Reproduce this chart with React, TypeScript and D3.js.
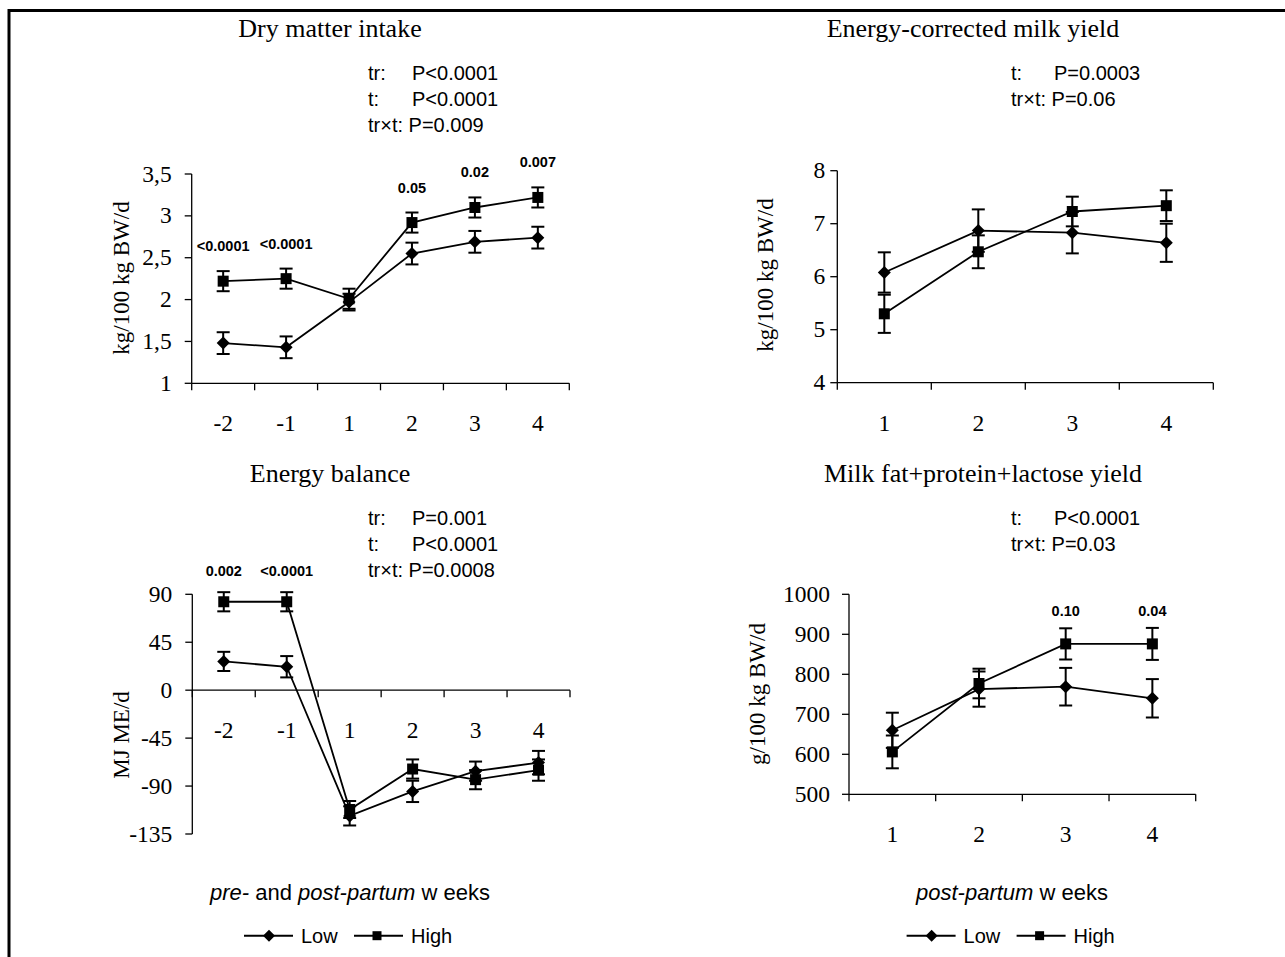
import React from "react";
import * as d3 from "d3";

// ---------- data ----------
const preWeeks = ["-2", "-1", "1", "2", "3", "4"];
const postWeeks = ["1", "2", "3", "4"];

const dmiLow = [1.48, 1.43, 1.97, 2.55, 2.69, 2.74];
const dmiLowSE = [0.13, 0.13, 0.1, 0.13, 0.13, 0.13];
const dmiHigh = [2.22, 2.25, 2.01, 2.92, 3.1, 3.22];
const dmiHighSE = [0.12, 0.12, 0.12, 0.12, 0.12, 0.12];
const dmiTicks = [1, 1.5, 2, 2.5, 3, 3.5];
const dmiSig = [["-2", "<0.0001"], ["-1", "<0.0001"], ["2", "0.05"], ["3", "0.02"], ["4", "0.007"]];
const dmiStats = ["tr:\tP<0.0001", "t:\tP<0.0001", "tr×t: P=0.009"];

const ecmLow = [6.08, 6.87, 6.83, 6.64];
const ecmLowSE = [0.38, 0.4, 0.39, 0.36];
const ecmHigh = [5.3, 6.47, 7.23, 7.34];
const ecmHighSE = [0.36, 0.31, 0.28, 0.29];
const ecmTicks = [4, 5, 6, 7, 8];
const ecmStats = ["t:\tP=0.0003", "tr×t: P=0.06"];

const ebLow = [27, 22, -118, -95, -76, -68];
const ebLowSE = [9, 10, 9, 10, 9, 11];
const ebHigh = [83, 83, -112, -74, -84, -75];
const ebHighSE = [9, 9, 8, 9, 9, 10];
const ebTicks = [-135, -90, -45, 0, 45, 90];
const ebSig = [["-2", "0.002"], ["-1", "<0.0001"]];
const ebStats = ["tr:\tP=0.001", "t:\tP<0.0001", "tr×t: P=0.0008"];

const fplLow = [660, 763, 769, 740];
const fplLowSE = [44, 44, 47, 48];
const fplHigh = [606, 777, 876, 876];
const fplHighSE = [41, 37, 39, 40];
const fplTicks = [500, 600, 700, 800, 900, 1000];
const fplSig = [["3", "0.10"], ["4", "0.04"]];
const fplStats = ["t:\tP<0.0001", "tr×t: P=0.03"];

const seriesNames = ["Low", "High"];

// ---------- styles ----------
const SERIF = "'Liberation Serif', 'Times New Roman', serif";
const SANS = "'Liberation Sans', Arial, sans-serif";

function Diamond({ x, y, r }: { x: number; y: number; r: number }) {
  return <path d={`M${x},${y - r}L${x + r},${y}L${x},${y + r}L${x - r},${y}Z`} fill="#000" />;
}
function Square({ x, y, s }: { x: number; y: number; s: number }) {
  return <rect x={x - s / 2} y={y - s / 2} width={s} height={s} fill="#000" />;
}

type PanelProps = {
  weeks: string[];
  low: number[];
  lowSE: number[];
  high: number[];
  highSE: number[];
  ticks: number[];
  fmt: (v: number) => string;
  x0: number;
  x1: number;
  yTop: number;
  yBottom: number;
  axisAt: number;
  tickLabelGap: number;
  yLabel: string;
  yLabelX: number;
  yLabelY: number;
  title: string;
  titleX: number;
  titleY: number;
  stats: string[];
  statsX: number;
  statsTab: number;
  statsY: number;
  sig?: string[][];
  sigOffset?: number;
};

function Panel(p: PanelProps) {
  const x = d3.scaleBand<string>().domain(p.weeks).range([p.x0, p.x1]).padding(0);
  const ext = d3.extent(p.ticks) as [number, number];
  const y = d3.scaleLinear().domain(ext).range([p.yBottom, p.yTop]);
  const cx = (w: string) => (x(w) as number) + x.bandwidth() / 2;
  const edges = [...p.weeks.map((w) => x(w) as number), p.x1];
  const axisY = y(p.axisAt);
  const line = d3
    .line<number>()
    .x((_, i) => cx(p.weeks[i]))
    .y((v) => y(v));

  const errBars = (vals: number[], se: number[], key: string) =>
    vals.map((v, i) => {
      const xx = cx(p.weeks[i]);
      const t = y(v + se[i]);
      const b = y(v - se[i]);
      return (
        <g key={key + i} stroke="#000" strokeWidth={2}>
          <line x1={xx} x2={xx} y1={t} y2={b} />
          <line x1={xx - 6.5} x2={xx + 6.5} y1={t} y2={t} />
          <line x1={xx - 6.5} x2={xx + 6.5} y1={b} y2={b} />
        </g>
      );
    });

  return (
    <g>
      <text x={p.titleX} y={p.titleY} textAnchor="middle" fontFamily={SERIF} fontSize={26}>
        {p.title}
      </text>
      {p.stats.map((s, i) => {
        const parts = s.split("\t");
        const yy = p.statsY + i * 26;
        return (
          <g key={"st" + i} fontFamily={SANS} fontSize={20}>
            <text x={p.statsX} y={yy}>{parts[0]}</text>
            {parts.length > 1 && (
              <text x={p.statsTab} y={yy}>{parts[1]}</text>
            )}
          </g>
        );
      })}
      {/* y axis */}
      <line x1={p.x0} x2={p.x0} y1={y(ext[1])} y2={y(ext[0])} stroke="#000" strokeWidth={1.3} />
      {p.ticks.map((t) => (
        <g key={"yt" + t}>
          <line x1={p.x0 - 7} x2={p.x0} y1={y(t)} y2={y(t)} stroke="#000" strokeWidth={1.3} />
          <text
            x={p.x0 - p.tickLabelGap}
            y={y(t) + 7.5}
            textAnchor="end"
            fontFamily={SERIF}
            fontSize={23.5}
          >
            {p.fmt(t)}
          </text>
        </g>
      ))}
      {/* x axis */}
      <line x1={p.x0} x2={p.x1} y1={axisY} y2={axisY} stroke="#000" strokeWidth={1.3} />
      {edges.map((e, i) => (
        <line key={"xt" + i} x1={e} x2={e} y1={axisY} y2={axisY + 7} stroke="#000" strokeWidth={1.3} />
      ))}
      {p.weeks.map((w) => (
        <text
          key={"xl" + w}
          x={cx(w)}
          y={axisY + 48}
          textAnchor="middle"
          fontFamily={SERIF}
          fontSize={23.5}
        >
          {w}
        </text>
      ))}
      <text
        transform={`translate(${p.yLabelX},${p.yLabelY}) rotate(-90)`}
        textAnchor="middle"
        fontFamily={SERIF}
        fontSize={23}
        dy="0.35em"
      >
        {p.yLabel}
      </text>
      {/* error bars */}
      {errBars(p.high, p.highSE, "eh")}
      {errBars(p.low, p.lowSE, "el")}
      {/* lines */}
      <path d={line(p.low) as string} fill="none" stroke="#000" strokeWidth={1.8} />
      <path d={line(p.high) as string} fill="none" stroke="#000" strokeWidth={1.8} />
      {p.low.map((v, i) => (
        <Diamond key={"dl" + i} x={cx(p.weeks[i])} y={y(v)} r={6.5} />
      ))}
      {p.high.map((v, i) => (
        <Square key={"sh" + i} x={cx(p.weeks[i])} y={y(v)} s={11} />
      ))}
      {(p.sig || []).map(([w, lab]) => {
        const i = p.weeks.indexOf(w);
        return (
          <text
            key={"sig" + w}
            x={cx(w)}
            y={y(p.high[i] + p.highSE[i]) - (p.sigOffset || 19)}
            textAnchor="middle"
            fontFamily={SANS}
            fontWeight="bold"
            fontSize={14.5}
          >
            {lab}
          </text>
        );
      })}
    </g>
  );
}

function Legend({ x, y }: { x: number; y: number }) {
  return (
    <g>
      <line x1={x} x2={x + 49} y1={y} y2={y} stroke="#000" strokeWidth={2} />
      <Diamond x={x + 25} y={y} r={6} />
      <text x={x + 57} y={y + 7} fontFamily={SANS} fontSize={20}>{seriesNames[0]}</text>
      <line x1={x + 110} x2={x + 159} y1={y} y2={y} stroke="#000" strokeWidth={2} />
      <Square x={x + 133} y={y} s={9} />
      <text x={x + 167} y={y + 7} fontFamily={SANS} fontSize={20}>{seriesNames[1]}</text>
    </g>
  );
}

const commaFmt = (v: number) => String(v).replace(".", ",");
const plainFmt = (v: number) => String(v);

export default function App() {
  return (
    <svg
      width={1285}
      height={957}
      style={{ position: "absolute", left: 0, top: 0, background: "#fff" }}
    >
      <rect x={0} y={0} width={1285} height={957} fill="#fff" />
      <rect x={9} y={10.5} width={1300} height={1000} fill="none" stroke="#000" strokeWidth={3} />

      <Panel
        weeks={preWeeks}
        low={dmiLow}
        lowSE={dmiLowSE}
        high={dmiHigh}
        highSE={dmiHighSE}
        ticks={dmiTicks}
        fmt={commaFmt}
        x0={191.7}
        x1={569.3}
        yTop={174}
        yBottom={383.3}
        axisAt={1}
        tickLabelGap={20}
        yLabel="kg/100 kg BW/d"
        yLabelX={121}
        yLabelY={278}
        title="Dry matter intake"
        titleX={330}
        titleY={37}
        stats={dmiStats}
        statsX={368}
        statsTab={412}
        statsY={80}
        sig={dmiSig}
        sigOffset={20}
      />
      <Panel
        weeks={postWeeks}
        low={ecmLow}
        lowSE={ecmLowSE}
        high={ecmHigh}
        highSE={ecmHighSE}
        ticks={ecmTicks}
        fmt={plainFmt}
        x0={837.3}
        x1={1213.3}
        yTop={170.7}
        yBottom={382.7}
        axisAt={4}
        tickLabelGap={12}
        yLabel="kg/100 kg BW/d"
        yLabelX={765}
        yLabelY={275}
        title="Energy-corrected milk yield"
        titleX={973}
        titleY={37}
        stats={ecmStats}
        statsX={1011}
        statsTab={1054}
        statsY={80}
      />
      <Panel
        weeks={preWeeks}
        low={ebLow}
        lowSE={ebLowSE}
        high={ebHigh}
        highSE={ebHighSE}
        ticks={ebTicks}
        fmt={plainFmt}
        x0={192.3}
        x1={570}
        yTop={594.3}
        yBottom={834}
        axisAt={0}
        tickLabelGap={20}
        yLabel="MJ ME/d"
        yLabelX={121}
        yLabelY={735}
        title="Energy balance"
        titleX={330}
        titleY={482}
        stats={ebStats}
        statsX={368}
        statsTab={412}
        statsY={525}
        sig={ebSig}
        sigOffset={16}
      />
      <Panel
        weeks={postWeeks}
        low={fplLow}
        lowSE={fplLowSE}
        high={fplHigh}
        highSE={fplHighSE}
        ticks={fplTicks}
        fmt={plainFmt}
        x0={849}
        x1={1195.7}
        yTop={594.3}
        yBottom={794.3}
        axisAt={500}
        tickLabelGap={19}
        yLabel="g/100 kg BW/d"
        yLabelX={757}
        yLabelY={694}
        title="Milk fat+protein+lactose yield"
        titleX={983}
        titleY={482}
        stats={fplStats}
        statsX={1011}
        statsTab={1054}
        statsY={525}
        sig={fplSig}
        sigOffset={12}
      />

      <text x={350} y={900} textAnchor="middle" fontFamily={SANS} fontSize={22}>
        <tspan fontStyle="italic">pre-</tspan>
        <tspan> and </tspan>
        <tspan fontStyle="italic">post-partum</tspan>
        <tspan> w eeks</tspan>
      </text>
      <text x={1012} y={900} textAnchor="middle" fontFamily={SANS} fontSize={22}>
        <tspan fontStyle="italic">post-partum</tspan>
        <tspan> w eeks</tspan>
      </text>
      <Legend x={244} y={935.7} />
      <Legend x={906.6} y={935.7} />
    </svg>
  );
}
